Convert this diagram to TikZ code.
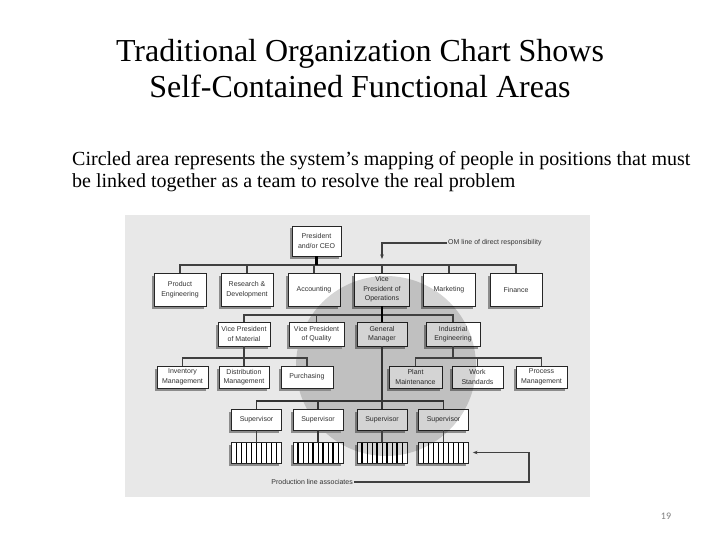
\documentclass[tikz,border=0pt]{standalone}
\usepackage{fontspec}
\setmainfont{Liberation Serif}
\newfontfamily\chartfont{Liberation Sans}
\newfontfamily\numfont{Carlito}
\usetikzlibrary{shadows,arrows.meta}
\definecolor{panelgray}{HTML}{E8E8E8}
\definecolor{chartink}{HTML}{333333}
\begin{document}
\begin{tikzpicture}[x=1pt,y=-1pt,
  obox/.style={draw=black!85, line width=0.9pt, fill=white, minimum width=52pt,
    minimum height=#1, inner sep=1pt, align=center,
    font=\chartfont\fontsize{7}{9.5}\selectfont, text=chartink,
    drop shadow={shadow xshift=-2.5pt, shadow yshift=-2.5pt, fill=black!45, opacity=1}},
  obox/.default=24pt,
  prodbox/.style={obox=21pt, minimum width=50pt,
    path picture={
      \foreach \i/\w in {1/1.3,2/0.7,3/0.7,4/1.3,5/0.7,6/1.3,7/0.7,8/1.3,9/0.7}
        \draw[line width=\w pt, black] ([xshift=\i*5pt]path picture bounding box.south west)
          -- ([xshift=\i*5pt]path picture bounding box.north west);}},
  conn/.style={draw=black!75, line width=1.1pt},
  medconn/.style={draw=black!80, line width=1.4pt},
  boldconn/.style={draw=black, line width=2.4pt},
  lab/.style={font=\chartfont\fontsize{7}{8}\selectfont, text=chartink, inner sep=1pt}
]
\useasboundingbox (0,0) rectangle (720,540);
\fill[white] (0,0) rectangle (720,540);

% titles
\node[anchor=base, font=\fontsize{32}{36}\selectfont] (t1) at (360,62) {Traditional Organization Chart Shows};
\node[anchor=base, font=\fontsize{32}{36}\selectfont] (t2) at (360,98) {Self-Contained Functional Areas};
\node[anchor=base west, inner sep=0, font=\fontsize{20}{24}\selectfont] (s1t) at (72,166) {Circled area represents the system’s mapping of people in positions that must};
\node[anchor=base west, inner sep=0, font=\fontsize{20}{24}\selectfont] (s2t) at (72,188) {be linked together as a team to resolve the real problem};
\node[anchor=base, font=\numfont\fontsize{10}{12}\selectfont, text=black!50] (pg) at (666,519) {19};

% chart panel
\fill[panelgray] (125,215) rectangle (590,497);

% boxes under the circle / outside it
\node[obox=30pt, minimum width=49pt] (ceo) at (316.5,241) {President\\and/or CEO};
\node[obox=33pt] (pe)  at (180,289.5) {Product\\Engineering};
\node[obox=33pt] (rd)  at (247,289.5) {Research \&\\Development};
\node[obox=33pt] (acc) at (314,289.5) {Accounting};
\node[obox=33pt, minimum width=55pt] (vpo) at (382,289.5) {Vice\\President of\\Operations};
\node[obox=33pt] (mkt) at (449,289.5) {Marketing};
\node[obox=33pt] (fin) at (516,289.5) {Finance};

\node[obox] (vpm) at (244,334) {Vice President\\of Material};
\node[obox, minimum width=50pt] (gm) at (382,334) {General\\Manager};
\node[obox, minimum width=54pt] (ie) at (453,334) {Industrial\\Engineering};

\node[obox=22pt, minimum width=51pt] (im)  at (182.5,377) {Inventory\\Management};
\node[obox=22pt, minimum width=50pt] (dm)  at (244,377) {Distribution\\Management};
\node[obox=22pt, minimum width=53pt] (pm)  at (415.5,377) {Plant\\Maintenance};
\node[obox=22pt, minimum width=51pt] (ws)  at (477.5,377) {Work\\Standards};
\node[obox=22pt, minimum width=51pt] (prm) at (541.5,377) {Process\\Management};

\node[obox=21pt, minimum width=50pt] (su1) at (256.5,419.5) {Supervisor};
\node[obox=21pt, minimum width=50pt] (su3) at (382,419.5) {Supervisor};
\node[obox=21pt, minimum width=50pt] (su4) at (443.5,419.5) {Supervisor};

\node[prodbox] (p1) at (256.5,452.5) {};
\node[prodbox] (p2) at (318,452.5) {};
\node[prodbox] (p3) at (382,452.5) {};
\node[prodbox] (p4) at (443.5,452.5) {};

% the circled team area
\fill[black, fill opacity=0.17] (386,366) circle[radius=90];

% boxes lying on top of the circle
\node[obox, minimum width=55pt] (vpq) at (316.5,334) {Vice President\\of Quality};
\node[obox=22pt] (pur) at (307,377) {Purchasing};
\node[obox=21pt, minimum width=50pt] (su2) at (318,419.5) {Supervisor};

% labels
\node[lab, anchor=west] (om) at (447,243) {OM line of direct responsibility};
\node[lab, anchor=east] (pla) at (354,482) {Production line associates};

% connectors
\coordinate (b1) at (316.5,265);
\draw[conn] (pe.north) |- (b1) -| (fin.north);
\draw[conn] (rd.north) -- (rd.north |- b1);
\draw[conn] (acc.north) -- (acc.north |- b1);
\draw[conn] (mkt.north) -- (mkt.north |- b1);
\draw[conn] (vpo.north) -- (vpo.north |- b1);
\draw[boldconn] (ceo.south) -- (b1);

\coordinate (omend) at (382,259);
\draw[conn, -{Stealth[length=4.5pt,width=3.5pt]}] (om.west) -| (omend);

\coordinate (b2) at (382,315);
\draw[conn] (vpm.north) |- (b2) -| (ie.north);
\draw[conn] (vpq.north) -- (vpq.north |- b2);
\draw[boldconn] (vpo.south) -- (gm.north);

\coordinate (b3l) at (244,358);
\draw[conn] (im.north) |- (b3l) -| (pur.north);
\draw[conn] (dm.north) -- (b3l);
\draw[conn] (vpm.south) -- (b3l);

\coordinate (b3r) at (453,358);
\draw[conn] (pm.north) |- (b3r) -| (prm.north);
\draw[conn] (ws.north) -- (ws.north |- b3r);
\draw[conn] (ie.south) -- (b3r);

\coordinate (b4) at (382,401);
\draw[medconn] (su1.north) |- (b4) -| (su4.north);
\draw[medconn] (su2.north) -- (su2.north |- b4);
\draw[medconn] (gm.south) -- (su3.north);

\draw[conn] (su1.south) -- (p1.north);
\draw[medconn] (su2.south) -- (p2.north);
\draw[conn] (su3.south) -- (p3.north);
\draw[conn] (su4.south) -- (p4.north);

\coordinate (fb) at (529,452.5);
\draw[conn, -{Stealth[length=4.5pt,width=3.5pt]}, shorten >=4pt] (pla.east) -| (fb) -- (p4.east);
\end{tikzpicture}
\end{document}
